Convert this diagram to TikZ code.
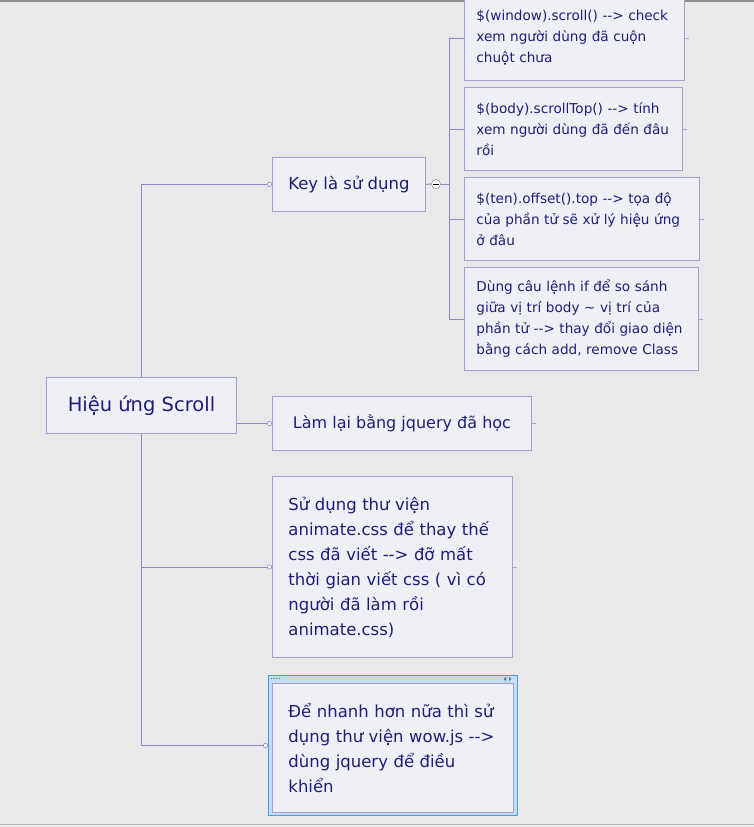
\documentclass[tikz,border=0pt]{standalone}
\usepackage{fontspec}
\setmainfont{DejaVu Sans}
\usetikzlibrary{arrows.meta}
\definecolor{bgc}{HTML}{E9E9EC}
\definecolor{linec}{HTML}{8A8AC8}
\definecolor{boxc}{HTML}{A0A0D2}
\definecolor{boxf}{HTML}{EFF0F5}
\definecolor{txt}{HTML}{1E1E78}
\definecolor{selblue}{HTML}{4A9BE8}
\definecolor{selbar}{HTML}{C4DCF5}
\newcommand\fsz[2]{\fontsize{#1pt}{#2pt}\selectfont}
\newcommand\lnbox[1]{\mbox{#1}}
\newcommand\ar{-{}-{}>}
\tikzset{
  box/.style={draw=boxc, fill=boxf, line width=0.9pt, rectangle, anchor=north west,
    align=left, text=txt, inner xsep=12pt, inner ysep=0pt},
  conn/.style={draw=linec, line width=0.9pt},
  endcirc/.style={-{Circle[length=5pt, fill=white, line width=0.6pt]}},
  stub/.style={draw=linec!70, line width=0.7pt},
}
\begin{document}
\begin{tikzpicture}[x=1pt, y=-1pt]
\useasboundingbox (0,0) rectangle (754,827);
\fill[bgc] (0,0) rectangle (754,827);
\draw[gray!90, line width=1.6pt] (0,1.2) -- (754,1.2);
\draw[gray!55, line width=1.8pt] (0,824.5) -- (754,824.5);

% root
\node[box, minimum width=190pt, minimum height=56pt, align=center, inner xsep=0pt,
  font=\fsz{19.5}{24}] (r) at (46,377) {Hiệu ứng Scroll};

% level 1
\node[box, minimum width=153pt, minimum height=54pt, align=center, inner xsep=0pt,
  font=\fsz{16.5}{20}] (k) at (272,157) {Key là sử dụng};
\node[box, minimum width=259pt, minimum height=54pt, align=center, inner xsep=0pt,
  font=\fsz{16}{20}] (l) at (272,396) {Làm lại bằng jquery đã học};
\node[box, minimum width=240pt, minimum height=181pt, inner xsep=16pt, text width=208pt,
  font=\fsz{16.5}{25}] (s) at (272,476) {\lnbox{Sử dụng thư viện}\\\lnbox{animate.css để thay thế}\\\lnbox{css đã viết \ar{} đỡ mất}\\\lnbox{thời gian viết css ( vì có}\\\lnbox{người đã làm rồi}\\\lnbox{animate.css)}};
\node[draw=selblue, fill=selbar, line width=1pt, rectangle, anchor=north west,
  minimum width=249pt, minimum height=140pt, inner sep=0pt] (dsel) at (268,675) {};
\node[box, minimum width=241pt, minimum height=129pt, inner xsep=16pt, text width=209pt,
  font=\fsz{16.5}{25}] (d) at (272,683) {\lnbox{Để nhanh hơn nữa thì sử}\\\lnbox{dụng thư viện wow.js \ar}\\\lnbox{dùng jquery để điều}\\\lnbox{khiển}};
\foreach \i in {0,1,2,3} \fill[selblue!80!black] (271.5+2.6*\i,678.5) circle (0.7pt);
\fill[selblue!80!black] (506,677) -- (503.5,679) -- (506,681) -- cycle;
\fill[selblue!80!black] (509,677) -- (511.5,679) -- (509,681) -- cycle;

% level 2
\node[box, minimum width=220pt, minimum height=85pt, text width=196pt,
  font=\fsz{13.6}{21}] (b1) at (464,-5) {\lnbox{\$(window).scroll() \ar{} check}\\\lnbox{xem người dùng đã cuộn}\\\lnbox{chuột chưa}};
\node[box, minimum width=218pt, minimum height=83pt, text width=194pt,
  font=\fsz{13.6}{21}] (b2) at (464,87) {\lnbox{\$(body).scrollTop() \ar{} tính}\\\lnbox{xem người dùng đã đến đâu}\\\lnbox{rồi}};
\node[box, minimum width=235pt, minimum height=83pt, text width=211pt,
  font=\fsz{13.6}{21}] (b3) at (464,177) {\lnbox{\$(ten).offset().top \ar{} tọa độ}\\\lnbox{của phần tử sẽ xử lý hiệu ứng}\\\lnbox{ở đâu}};
\node[box, minimum width=234pt, minimum height=103pt, text width=210pt,
  font=\fsz{13.6}{21}] (b4) at (464,267) {\lnbox{Dùng câu lệnh if để so sánh}\\\lnbox{giữa vị trí body \textasciitilde{} vị trí của}\\\lnbox{phần tử \ar{} thay đổi giao diện}\\\lnbox{bằng cách add, remove Class}};

% collapse button
\node[circle, draw=gray!80, fill=white, line width=0.6pt, minimum size=9pt, inner sep=0pt,
  path picture={\draw[black, line width=1pt]
    ([xshift=-2.6pt]path picture bounding box.center) -- ([xshift=2.6pt]path picture bounding box.center);}]
  (m) at (436,184) {};
\coordinate (kt) at (449,184);

% connectors
\draw[conn, endcirc] (r.north) |- (k.west);
\draw[conn, endcirc] (r.east |- l.west) -- (l.west);
\draw[conn, endcirc] (r.south) |- (s.west);
\draw[conn, endcirc] (r.south) |- (dsel.west);
\draw[conn] (k.east) -- (m.west);
\draw[conn] (m.east) -- (kt);
\draw[conn] (kt) |- (b1.west);
\draw[conn] (kt) |- (b2.west);
\draw[conn] (kt) |- (b3.west);
\draw[conn] (kt) |- (b4.west);

% stubs
\foreach \n in {b1,b2,b3,b4,l,s} \draw[stub] (\n.east) -- ++(4,0);
\end{tikzpicture}
\end{document}
